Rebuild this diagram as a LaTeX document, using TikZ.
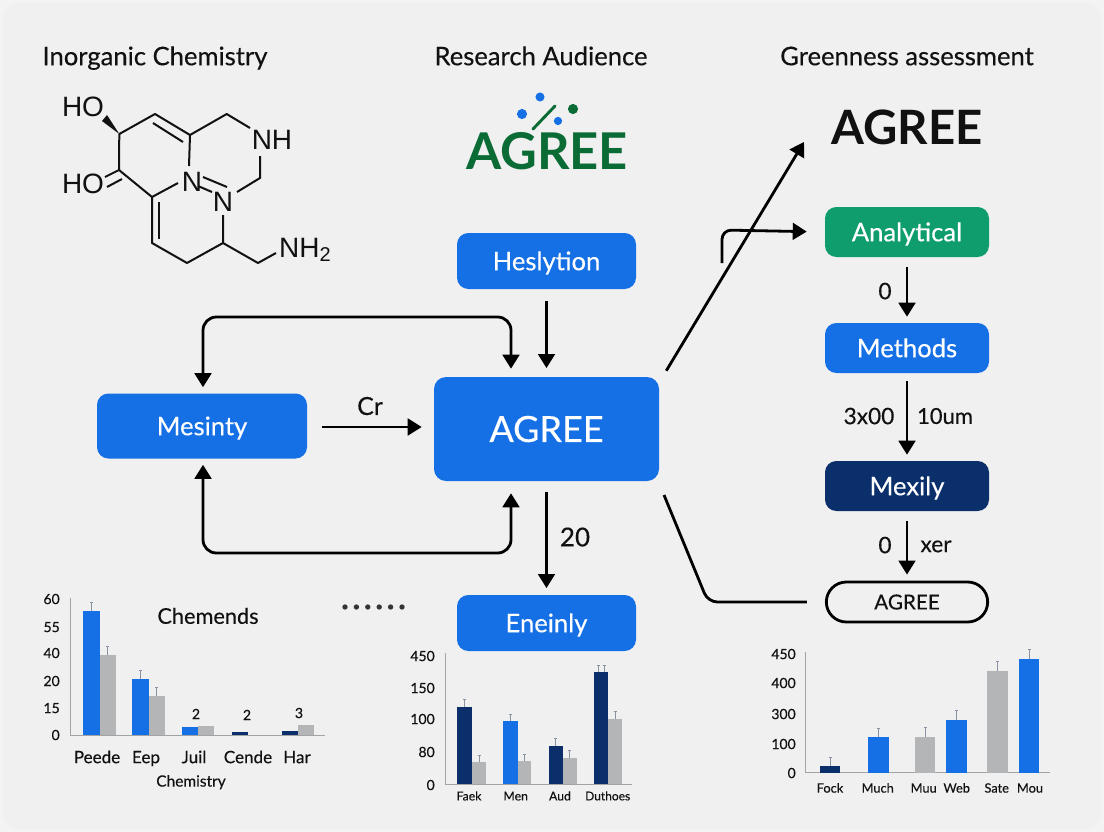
\documentclass[tikz,border=0pt]{standalone}
\usepackage{fontspec}
\setmainfont{Lato}[FakeBold=0.3,BoldFeatures={FakeBold=0}]
\newfontfamily\molfont{Liberation Sans}
\usetikzlibrary{arrows.meta,calc}
\definecolor{bg}{HTML}{F0F0F1}
\definecolor{bgout}{HTML}{F3F3F4}
\definecolor{mblue}{HTML}{1570E6}
\definecolor{mgreen}{HTML}{0F9D6E}
\definecolor{mdark}{HTML}{0B2F6B}
\definecolor{mgray}{HTML}{B4B5B7}
\definecolor{lgreen}{HTML}{0B6B35}
\definecolor{txt}{HTML}{111111}
\definecolor{errc}{HTML}{8A92A3}
\newcommand{\capbox}[1]{\raisebox{0pt}[0.72em][0pt]{#1}}
\tikzset{
  sz/.style={font=\fontsize{#1}{#1}\selectfont,text=txt,inner sep=0pt},
  wsz/.style={font=\fontsize{#1}{#1}\selectfont\bfseries,text=txt,inner sep=0pt},
  boxbase/.style={rounded corners=8.5pt,text=white,inner sep=0pt,font=\fontsize{19.2}{20}\selectfont},
  conn/.style={draw=black,line width=2.1pt,-{Triangle[length=10.5pt,width=12.5pt]}},
  connb/.style={draw=black,line width=2.1pt,{Triangle[length=10.5pt,width=12.5pt]}-{Triangle[length=10.5pt,width=12.5pt]},rounded corners=10pt},
  plain/.style={draw=black,line width=2.1pt},
  bond/.style={draw=txt,line width=1.5pt},
  axisl/.style={draw=mgray!90!black,line width=0.7pt},
  errb/.style={draw=errc,line width=0.7pt},
}
\newcounter{lb}
\newcommand{\lbl}[4]{\stepcounter{lb}\node[sz=#3] (lb\arabic{lb}) at (#1,#2) {\capbox{#4}};}
\newcommand{\rlbl}[4]{\stepcounter{lb}\node[sz=#3,anchor=east] (lb\arabic{lb}) at (#1,#2) {\capbox{#4}};}
% x1 x2 top base colour errtop
\newcommand{\ebar}[6]{\fill[#5] (#1,#3) rectangle (#2,#4);
  \draw[errb] ({(#1+#2)/2},#3) -- ({(#1+#2)/2},#6) ({(#1+#2)/2-1.5},#6) -- ({(#1+#2)/2+1.5},#6);}
\newcommand{\nbar}[5]{\fill[#5] (#1,#3) rectangle (#2,#4);}
\begin{document}
\begin{tikzpicture}[x=0.75pt,y=-0.75pt]
\useasboundingbox (0,0) rectangle (1104,832);
\fill[bgout] (0,0) rectangle (1104,832);
\fill[bg,rounded corners=12pt] (3,3) rectangle (1101,829);

% headings
\lbl{155}{56}{19.2}{Inorganic Chemistry}
\lbl{541}{56}{19.2}{Research Audience}
\lbl{907}{56}{19.2}{Greenness assessment}
\node[wsz=35.5] (agreeR) at (907,127) {AGREE};

% logo
\node[sz=38,font=\fontsize{38}{38}\selectfont\bfseries,text=lgreen] (logo) at (547,151) {AGREE};
\fill[mblue] (540,97) circle (3.4pt) (522,114) circle (3.8pt) (558,121) circle (3.1pt);
\fill[lgreen] (573,109) circle (3.8pt);
\draw[lgreen,line width=2.2pt,line cap=round] (555,106) -- (533,129);

% molecule
\begin{scope}[every node/.style={font=\molfont\fontsize{21}{21}\selectfont,text=txt,inner sep=0pt}]
\node (ho1) at (83,107) {HO};
\node (ho2) at (83,184) {HO};
\node (nh) at (272,140) {NH};
\node (n1) at (192,182) {N};
\node (n2) at (223,202) {N};
\node (nh2) at (305,250) {NH\raisebox{-3pt}{\fontsize{15}{15}\selectfont 2}};
\end{scope}
\fill[txt] (119.3,134) -- (102,121) -- (107,115) -- cycle;
\draw[bond,line join=round] (119.3,134) -- (155,114) -- (190,135) -- (226.7,114) -- (250,128);
\draw[bond] (153,123) -- (183,142);
\draw[bond] (190,135) -- (189,166);
\draw[bond] (260,156) -- (260,178) -- (237,192);
\draw[bond] (203,177) -- (227,187) (198,186) -- (212,192);
\draw[bond,line join=round] (119.3,134) -- (119,170) -- (152,197) -- (178,183);
\draw[bond] (105,177) -- (119,170) (107,187) -- (122,179);
\draw[bond,line join=round] (152,197) -- (152,243) -- (187,263) -- (223,243) -- (223,215);
\draw[bond] (159,202) -- (159,239);
\draw[bond,line join=round] (223,243) -- (258,263) -- (276,253);

% boxes
\node[boxbase,fill=mblue,minimum width=134.25pt,minimum height=42pt] (hes) at (546.5,261) {\capbox{Heslytion}};
\node[boxbase,fill=mblue,minimum width=157.5pt,minimum height=48.75pt] (mes) at (202,426) {\capbox{Mesinty}};
\node[boxbase,fill=mblue,minimum width=168.75pt,minimum height=78pt,rounded corners=9pt,font=\fontsize{27}{27}\selectfont] (main) at (546.5,429) {\capbox{AGREE}};
\node[boxbase,fill=mblue,minimum width=134.25pt,minimum height=42pt] (ene) at (546.5,623) {\capbox{Eneinly}};
\node[boxbase,fill=mgreen,minimum width=123pt,minimum height=37.5pt] (ana) at (907,232) {\capbox{Analytical}};
\node[boxbase,fill=mblue,minimum width=123pt,minimum height=37.5pt] (met) at (907,348) {\capbox{Methods}};
\node[boxbase,fill=mdark,minimum width=123pt,minimum height=37.5pt] (mex) at (907,486) {\capbox{Mexily}};
\node[draw=black,line width=2.1pt,rounded corners=15pt,minimum width=121pt,minimum height=30pt,inner sep=0pt,font=\fontsize{15.5}{16}\selectfont,text=txt] (pill) at (907,602) {\capbox{AGREE}};

% connectors
\draw[conn,shorten <=9pt,shorten >=6.5pt] (hes.south) -- (hes.south |- main.north);
\coordinate (tl) at (203,317); \coordinate (tr) at (511,317);
\coordinate (bl) at (203,553); \coordinate (br) at (511,553);
\draw[connb] (mes.north -| tl) ++(0,-6) -- (tl) -- (tr) -- ($(tr |- main.north)+(0,-8)$);
\draw[connb] (mes.south -| bl) ++(0,6) -- (bl) -- (br) -- ($(br |- main.south)+(0,12)$);
\draw[conn,shorten <=11pt,shorten >=9pt] (mes.east |- 0,427) -- (main.west |- 0,427);
\lbl{370}{406}{18.7}{Cr}
\draw[conn,shorten <=8pt,shorten >=5pt] (main.south) -- (ene.north);
\lbl{575}{537}{19.5}{20}
\coordinate (tipA) at (804,142);
\draw[conn] ($(main.north east)+(7,-6)$) -- (tipA);
\coordinate (bendS) at (722,263); \coordinate (bend) at (722,230);
\draw[conn,rounded corners=7pt,shorten >=13.5pt] (bendS) -- (bend) -- (ana.west);
\draw[conn,shorten <=7pt,shorten >=4.5pt] (ana.south) -- (met.north);
\lbl{885}{291}{17}{0}
\draw[conn,shorten <=6pt,shorten >=4.5pt] (met.south) -- (mex.north);
\lbl{869}{416}{17}{3x00}
\lbl{945}{416}{16.5}{10um}
\draw[conn,shorten <=7.5pt,shorten >=4.5pt] (mex.south) -- (pill.north);
\lbl{885}{545}{17}{0}
\lbl{936}{544}{17}{xer}
\coordinate (lstart) at (664,495); \coordinate (lcorner) at (708,602);
\draw[plain,rounded corners=7pt,shorten >=13.5pt] (lstart) -- (lcorner) -- (pill.west);

% chart 1
\draw[axisl] (70,598) -- (70,735) -- (325,735);
\ebar{83.3}{99.7}{610.7}{734.5}{mblue}{602}
\ebar{99.7}{115.7}{655}{734.5}{mgray}{646}
\ebar{132.3}{148.7}{679}{734.5}{mblue}{670.3}
\ebar{148.7}{165}{695.7}{734.5}{mgray}{687}
\nbar{182}{197.7}{727}{734.5}{mblue}
\nbar{197.7}{214}{726}{734.5}{mgray}
\nbar{231.7}{247.7}{732}{734.5}{mdark}
\nbar{281.7}{298}{730.7}{734.5}{mdark}
\nbar{298}{314.3}{725.3}{734.5}{mgray}
\rlbl{60}{599}{10.5}{60}
\rlbl{60}{627}{10.5}{55}
\rlbl{60}{653}{10.5}{40}
\rlbl{60}{681}{10.5}{20}
\rlbl{60}{708}{10.5}{15}
\rlbl{60}{735}{10.5}{0}
\lbl{196}{714}{10.5}{2}
\lbl{247}{715}{10.5}{2}
\lbl{299}{713}{10.5}{3}
\lbl{97}{757}{12.8}{Peede}
\lbl{146}{757}{12.8}{Eep}
\lbl{194}{757}{12.8}{Juil}
\lbl{248}{757}{12.8}{Cende}
\lbl{297}{757}{12.8}{Har}
\lbl{191}{781}{11.6}{Chemistry}
\lbl{208}{616}{16.3}{Chemends}
\foreach \dx in {345,356.4,367.8,379.2,390.6,402} \fill[txt!85] (\dx,607) circle (2pt);

% chart 2
\draw[axisl] (445,653) -- (445,784.5) -- (632,784.5);
\ebar{457.3}{472}{706.7}{784}{mdark}{699}
\ebar{472}{486}{762}{784}{mgray}{755}
\ebar{503}{517.7}{721.3}{784}{mblue}{714}
\ebar{517.7}{531}{761}{784}{mgray}{754}
\ebar{548.7}{563}{745.7}{784}{mdark}{738}
\ebar{563}{576.7}{757.7}{784}{mgray}{750}
\fill[mdark] (593.7,672.3) rectangle (608.3,784);
\draw[errb] (598,672.3) -- (598,665) (596.5,665) -- (599.5,665) (604,672.3) -- (604,665) (602.5,665) -- (605.5,665);
\ebar{608.3}{622}{718.7}{784}{mgray}{711}
\rlbl{435}{656}{10.5}{450}
\rlbl{435}{688}{10.5}{150}
\rlbl{435}{719}{10.5}{100}
\rlbl{435}{752}{10.5}{80}
\rlbl{435}{785}{10.5}{0}
\lbl{469}{796}{9.2}{Faek}
\lbl{515.7}{796}{9.2}{Men}
\lbl{560}{796}{9.2}{Aud}
\lbl{607.7}{796}{9}{Duthoes}

% chart 3
\draw[axisl] (805,652) -- (805,772.5) -- (1050,772.5);
\ebar{819.7}{840.3}{766}{772.5}{mdark}{757.7}
\ebar{868}{888.7}{737}{772.5}{mblue}{728}
\ebar{914.7}{935.3}{736.7}{772.5}{mgray}{727}
\ebar{946}{966.7}{720.3}{772.5}{mblue}{710.7}
\ebar{987.3}{1008}{671}{772.5}{mgray}{661.7}
\ebar{1018.7}{1039.3}{659}{772.5}{mblue}{649.3}
\rlbl{796}{654}{10.5}{450}
\rlbl{796}{683}{10.5}{400}
\rlbl{796}{714}{10.5}{300}
\rlbl{796}{744}{10.5}{100}
\rlbl{796}{773}{10.5}{0}
\lbl{830}{788}{9.6}{Fock}
\lbl{877.7}{788}{9.6}{Much}
\lbl{923.7}{788}{9.6}{Muu}
\lbl{956.7}{788}{9.6}{Web}
\lbl{996.7}{788}{9.6}{Sate}
\lbl{1030}{788}{9.6}{Mou}
\end{tikzpicture}
\end{document}
